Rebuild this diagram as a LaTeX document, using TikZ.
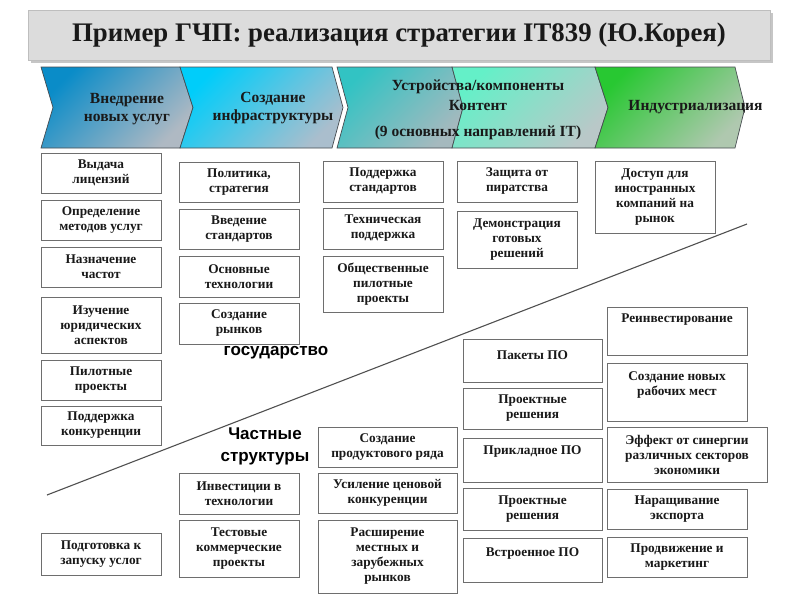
\documentclass[tikz,border=0pt]{standalone}
\usepackage{fontspec}
\setmainfont{Liberation Serif}
\newfontfamily\sansb{Liberation Sans}
\usetikzlibrary{shadows}
\definecolor{boxgray}{RGB}{110,110,110}
\definecolor{txt}{RGB}{25,25,25}
\definecolor{chevline}{RGB}{70,75,80}
\definecolor{titlefill}{RGB}{220,220,220}
\definecolor{titleline}{RGB}{190,190,190}
\definecolor{diagline}{RGB}{80,80,80}
\definecolor{ca}{RGB}{10,140,200}
\definecolor{cb}{RGB}{175,185,195}
\definecolor{da}{RGB}{0,205,250}
\definecolor{db}{RGB}{170,190,205}
\definecolor{ea}{RGB}{50,195,195}
\definecolor{eb}{RGB}{165,185,190}
\definecolor{fa}{RGB}{100,240,200}
\definecolor{fb}{RGB}{185,200,200}
\definecolor{ga}{RGB}{40,200,50}
\definecolor{gb}{RGB}{175,200,175}
\begin{document}
\begin{tikzpicture}[x=1pt,y=-1pt,
  box/.style={draw=boxgray, line width=0.9pt, fill=white, align=center,
    font=\bfseries\fontsize{13.3}{15}\selectfont, inner sep=2pt, text=txt},
  chev/.style={draw=chevline, line width=0.7pt},
  chevtxt/.style={font=\bfseries\fontsize{15.5}{18}\selectfont, align=center, text=txt},
  lbl/.style={font=\sansb\bfseries\fontsize{17}{22}\selectfont, align=center, text=black},
  titlebox/.style={fill=titlefill, draw=titleline, line width=0.6pt,
    drop shadow={shadow xshift=3pt, shadow yshift=-3pt, opacity=0.45, fill=gray},
    font=\bfseries\fontsize{26.8}{30}\selectfont, text=txt},
  diag/.style={draw=diagline, line width=1.1pt}]
\useasboundingbox (0,0) rectangle (800,600);

% title
\node[titlebox, minimum width=742, minimum height=50] (title) at (399,35)
  {Пример ГЧП: реализация стратегии IT839 (Ю.Корея)};

% chevrons
\path[chev, top color=ca, bottom color=cb, shading angle=45]
  (41,67) -- (180,67) -- (193,107.5) -- (180,148) -- (41,148) -- (53,107.5) -- cycle;
\path[chev, top color=da, bottom color=db, shading angle=45]
  (180,67) -- (332,67) -- (343,107.5) -- (332,148) -- (180,148) -- (193,107.5) -- cycle;
\path[chev, top color=ea, bottom color=eb, shading angle=45]
  (337,67) -- (452,67) -- (463,107.5) -- (452,148) -- (337,148) -- (348,107.5) -- cycle;
\path[chev, top color=fa, bottom color=fb, shading angle=45]
  (452,67) -- (595,67) -- (608,107.5) -- (595,148) -- (452,148) -- (463,107.5) -- cycle;
\path[chev, top color=ga, bottom color=gb, shading angle=45]
  (595,67) -- (735,67) -- (745,107.5) -- (735,148) -- (595,148) -- (608,107.5) -- cycle;

\node[chevtxt] (t1) at (127,109) {Внедрение\\новых услуг};
\node[chevtxt] (t2) at (273,108.5) {Создание\\инфраструктуры};
\node[chevtxt, font=\bfseries\fontsize{15.5}{20}\selectfont] (t3) at (478,110)
  {Устройства/компоненты\\Контент\\[6pt](9 основных направлений IT)};
\node[chevtxt] (t5) at (695.5,107) {Индустриализация};

% diagonal
\coordinate (dl) at (47,495);
\coordinate (dr) at (747,224);
\draw[diag] (dl) -- (dr);

% column 1
\node[box, minimum width=120, minimum height=40] (b1) at (101,173) {Выдача\\лицензий};
\node[box, minimum width=120, minimum height=40] (b2) at (101,220) {Определение\\методов услуг};
\node[box, minimum width=120, minimum height=40] (b3) at (101,267) {Назначение\\частот};
\node[box, minimum width=120, minimum height=56] (b4) at (101,325) {Изучение\\юридических\\аспектов};
\node[box, minimum width=120, minimum height=40] (b5) at (101,380) {Пилотные\\проекты};
\node[box, minimum width=120, minimum height=39] (b6) at (101,425.5) {Поддержка\\конкуренции};
\node[box, minimum width=120, minimum height=42] (b7) at (101,554) {Подготовка к\\запуску услог};

% column 2
\node[box, minimum width=120, minimum height=40] (c1) at (239,182) {Политика,\\стратегия};
\node[box, minimum width=120, minimum height=40] (c2) at (239,229) {Введение\\стандартов};
\node[box, minimum width=120, minimum height=41] (c3) at (239,276.5) {Основные\\технологии};
\node[box, minimum width=120, minimum height=41] (c4) at (239,323.5) {Создание\\рынков};
\node[box, minimum width=120, minimum height=41] (c5) at (239,493.5) {Инвестиции в\\технологии};
\node[box, minimum width=120, minimum height=57] (c6) at (239,548.5) {Тестовые\\коммерческие\\проекты};

% column 3
\node[box, minimum width=120, minimum height=41] (d1) at (383,181.5) {Поддержка\\стандартов};
\node[box, minimum width=120, minimum height=41] (d2) at (383,228.5) {Техническая\\поддержка};
\node[box, minimum width=120, minimum height=56] (d3) at (383,284) {Общественные\\пилотные\\проекты};
\node[box, minimum width=139, minimum height=40] (d4) at (387.5,447) {Создание\\продуктового ряда};
\node[box, minimum width=139, minimum height=40] (d5) at (387.5,493) {Усиление ценовой\\конкуренции};
\node[box, minimum width=139, minimum height=73] (d6) at (387.5,556.5) {Расширение\\местных и\\зарубежных\\рынков};

% column 4
\node[box, minimum width=120, minimum height=41] (e1) at (517,181.5) {Защита от\\пиратства};
\node[box, minimum width=120, minimum height=57] (e2) at (517,239.5) {Демонстрация\\готовых\\решений};
\node[box, minimum width=139, minimum height=43, text height=9pt, text depth=12pt] (f1) at (532.5,360.5) {Пакеты ПО};
\node[box, minimum width=139, minimum height=41] (f2) at (532.5,408.5) {Проектные\\решения};
\node[box, minimum width=139, minimum height=44, text height=9pt, text depth=21pt] (f3) at (532.5,460) {Прикладное ПО};
\node[box, minimum width=139, minimum height=42] (f4) at (532.5,509) {Проектные\\решения};
\node[box, minimum width=139, minimum height=44, text height=9pt, text depth=17pt] (f5) at (532.5,560) {Встроенное ПО};

% column 5
\node[box, minimum width=120, minimum height=72] (g1) at (655,197) {Доступ для\\иностранных\\компаний на\\рынок};
\node[box, minimum width=140, minimum height=48, text height=9pt, text depth=27pt] (h1) at (677,331) {Реинвестирование};
\node[box, minimum width=140, minimum height=58, text height=24pt, text depth=18pt] (h2) at (677,392) {Создание новых\\рабочих мест};
\node[box, minimum width=160, minimum height=55] (h3) at (687,454.5) {Эффект от синергии\\различных секторов\\экономики};
\node[box, minimum width=140, minimum height=40] (h4) at (677,509) {Наращивание\\экспорта};
\node[box, minimum width=140, minimum height=40] (h5) at (677,557) {Продвижение и\\маркетинг};

% labels
\node[lbl] (gos) at (276,353) {государство};
\node[lbl] (chs) at (265,446) {Частные\\структуры};
\end{tikzpicture}
\end{document}
